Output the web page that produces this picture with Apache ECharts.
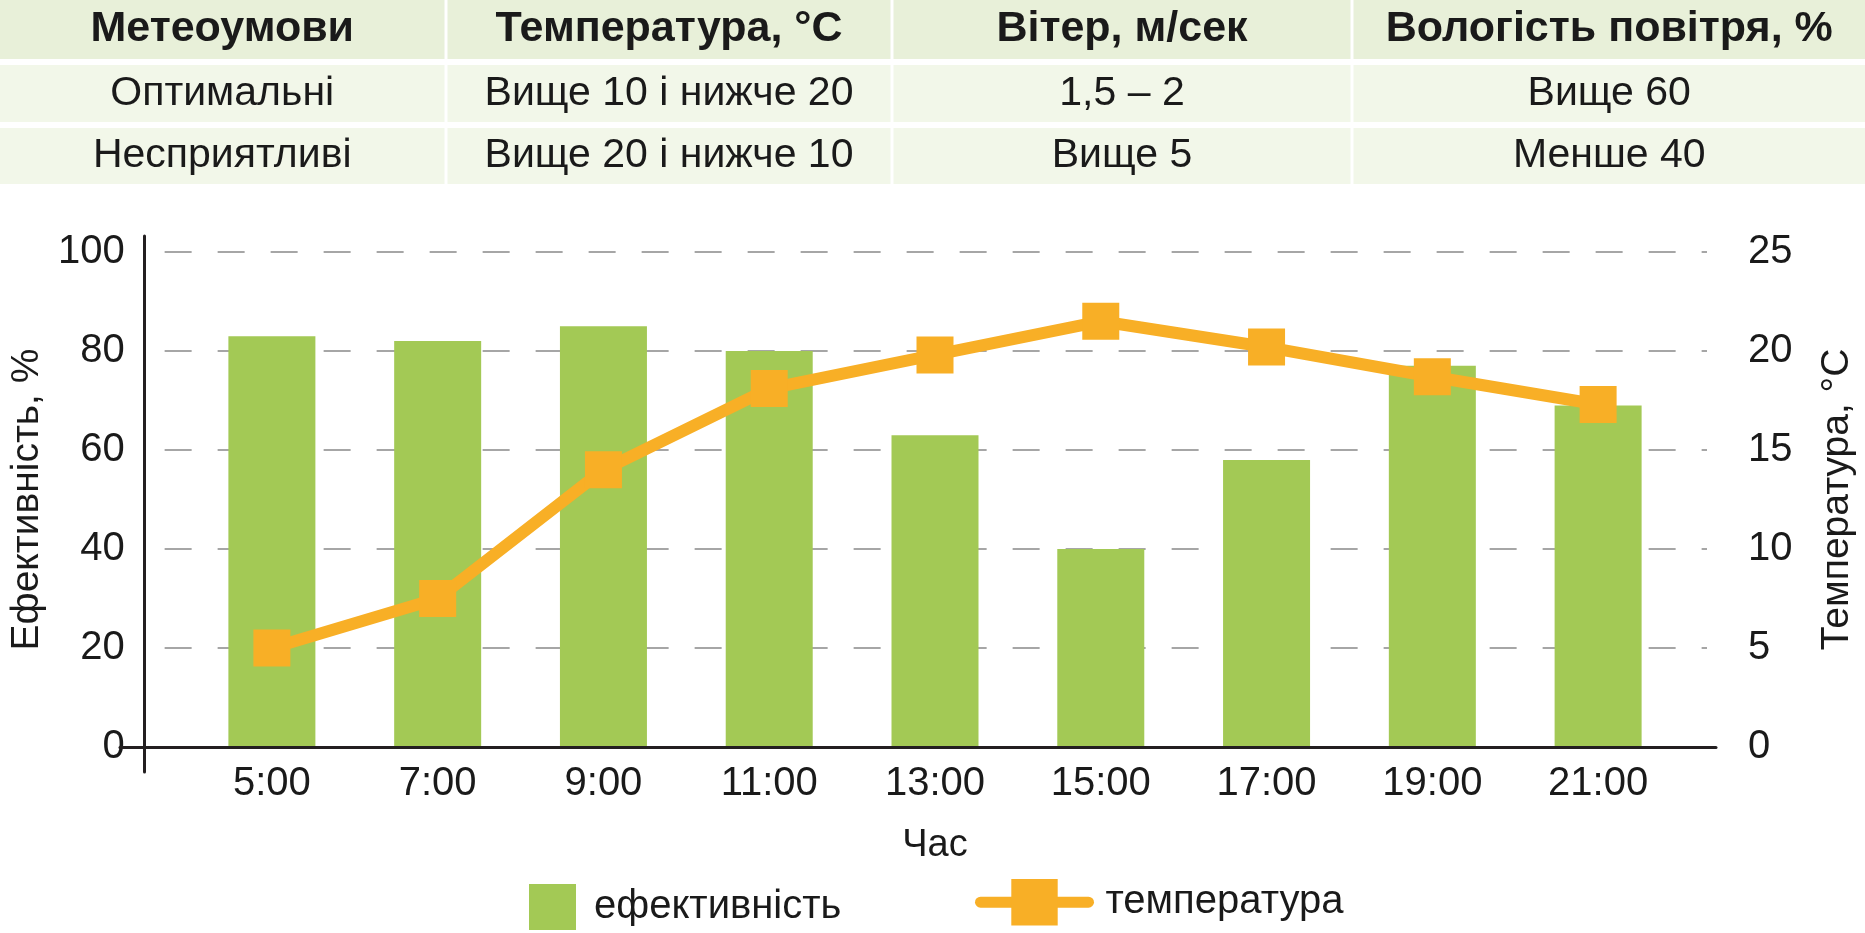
<!DOCTYPE html>
<html>
<head>
<meta charset="utf-8">
<script src="https://cdn.jsdelivr.net/npm/echarts@6/dist/echarts.min.js"></script>
<style>
html, body { margin: 0; padding: 0; background: #fff; }
#chart { width: 1865px; height: 933px; }
</style>
</head>
<body>
<div id="chart"></div>
<script>
// таблиця умов
var tableHead = ['Метеоумови', 'Температура, °C', 'Вітер, м/сек', 'Вологість повітря, %'];
var rowOptimal = ['Оптимальні', 'Вище 10 і нижче 20', '1,5 – 2', 'Вище 60'];
var rowAdverse = ['Несприятливі', 'Вище 20 і нижче 10', 'Вище 5', 'Менше 40'];

// дані графіка
var hours = ['5:00', '7:00', '9:00', '11:00', '13:00', '15:00', '17:00', '19:00', '21:00'];
var efficiency = [83, 82, 85, 80, 63, 40, 58, 77, 69];
var temperature = [5, 7.5, 14, 18.1, 19.8, 21.5, 20.2, 18.7, 17.3];
var effRange = [0, 100, 20];   // min, max, крок
var tempRange = [0, 25, 5];

var font = "'Liberation Sans', Arial, sans-serif";
var textColor = '#1a1a1a';
var green = '#a3c955';
var orange = '#f8af26';

var myChart = echarts.init(document.getElementById('chart'));

// клітинки таблиці
var colEdges = [0, 446, 892, 1352, 1865];
var rowBands = [[0, 59], [65, 122], [128, 184]];
var cells = [];
[tableHead, rowOptimal, rowAdverse].forEach(function (row, r) {
	row.forEach(function (txt, c) {
		var x0 = c === 0 ? 0 : colEdges[c] + 1.5;
		var x1 = c === 3 ? 1865 : colEdges[c + 1] - 1.5;
		cells.push({
			type: 'rect',
			shape: {x: x0, y: rowBands[r][0], width: x1 - x0, height: rowBands[r][1] - rowBands[r][0]},
			style: {fill: r === 0 ? '#e8f0d9' : '#f2f7e9'},
			textContent: {
				style: {
					text: txt,
					fontSize: r === 0 ? 43 : 41,
					fontWeight: r === 0 ? 'bold' : 'normal',
					fontFamily: font,
					fill: textColor
				}
			},
			textConfig: {position: 'inside'}
		});
	});
});

var option = {
	animation: false,
	graphic: cells,
	legend: [{
		data: ['ефективність'],
		left: 529, top: 884,
		padding: 0,
		icon: 'rect',
		itemWidth: 47, itemHeight: 46,
		selectedMode: false,
		textStyle: {fontSize: 40, fontFamily: font, color: textColor, padding: [0, 0, 0, 13]}
	}, {
		data: ['температура'],
		left: 975, top: 879,
		padding: 0,
		itemWidth: 108, itemHeight: 58,
		selectedMode: false,
		lineStyle: {width: 11, cap: 'round'},
		textStyle: {fontSize: 40, fontFamily: font, color: textColor, padding: [0, 0, 0, 12]}
	}],
	grid: [
		{left: 144, right: 149, top: 236, bottom: 161},   // лінія осі Y
		{left: 120, right: 149, top: 252, bottom: 186},   // базова лінія
		{left: 144, right: 149, top: 252, bottom: 186},   // шкали і сітка
		{left: 189, right: 184, top: 252, bottom: 186}    // категорії
	],
	xAxis: [{
		gridIndex: 0, type: 'value', show: false, min: 0, max: 1
	}, {
		gridIndex: 1, type: 'value', min: 0, max: 1, z: 5,
		axisLine: {show: true, lineStyle: {color: '#231f20', width: 3}},
		axisTick: {show: false}, axisLabel: {show: false}, splitLine: {show: false}
	}, {
		gridIndex: 2, type: 'value', show: false, min: 0, max: 1
	}, {
		gridIndex: 3, type: 'category', data: hours,
		axisLine: {show: false}, axisTick: {show: false},
		axisLabel: {fontSize: 40, fontFamily: font, color: textColor, margin: 17},
		name: 'Час', nameLocation: 'middle', nameGap: 80,
		nameTextStyle: {fontSize: 38, fontFamily: font, color: textColor}
	}],
	yAxis: [{
		gridIndex: 0, type: 'value', min: 0, max: 1,
		axisLine: {show: true, lineStyle: {color: '#231f20', width: 3}},
		axisTick: {show: false}, axisLabel: {show: false}, splitLine: {show: false}
	}, {
		gridIndex: 1, type: 'value', show: false, min: 0, max: 1, splitLine: {show: false}
	}, {
		gridIndex: 2, type: 'value', position: 'left',
		min: effRange[0], max: effRange[1], interval: effRange[2],
		axisLine: {show: false}, axisTick: {show: false},
		axisLabel: {fontSize: 40, fontFamily: font, color: textColor, margin: 40},
		splitLine: {show: true, lineStyle: {color: '#a6a6a6', width: 2, type: [27, 26]}},
		name: 'Ефективність, %', nameLocation: 'middle', nameGap: 104,
		nameTextStyle: {fontSize: 39, fontFamily: font, color: textColor}
	}, {
		gridIndex: 2, type: 'value', position: 'right',
		min: tempRange[0], max: tempRange[1], interval: tempRange[2],
		axisLine: {show: false}, axisTick: {show: false},
		axisLabel: {fontSize: 40, fontFamily: font, color: textColor, margin: 41},
		splitLine: {show: false},
		name: 'Температура, °C', nameLocation: 'middle', nameGap: 111, nameRotate: 90,
		nameTextStyle: {fontSize: 39, fontFamily: font, color: textColor}
	}, {
		gridIndex: 3, type: 'value', show: false,
		min: effRange[0], max: effRange[1], splitLine: {show: false}
	}, {
		gridIndex: 3, type: 'value', show: false,
		min: tempRange[0], max: tempRange[1], splitLine: {show: false}
	}],
	series: [{
		name: 'ефективність',
		type: 'bar',
		xAxisIndex: 3, yAxisIndex: 4,
		barWidth: 87,
		itemStyle: {color: green},
		data: efficiency
	}, {
		name: 'температура',
		type: 'line',
		xAxisIndex: 3, yAxisIndex: 5,
		symbol: 'rect', symbolSize: 37,
		lineStyle: {color: orange, width: 12},
		itemStyle: {color: orange},
		z: 3,
		data: temperature
	}]
};
myChart.setOption(option);
</script>
</body>
</html>
